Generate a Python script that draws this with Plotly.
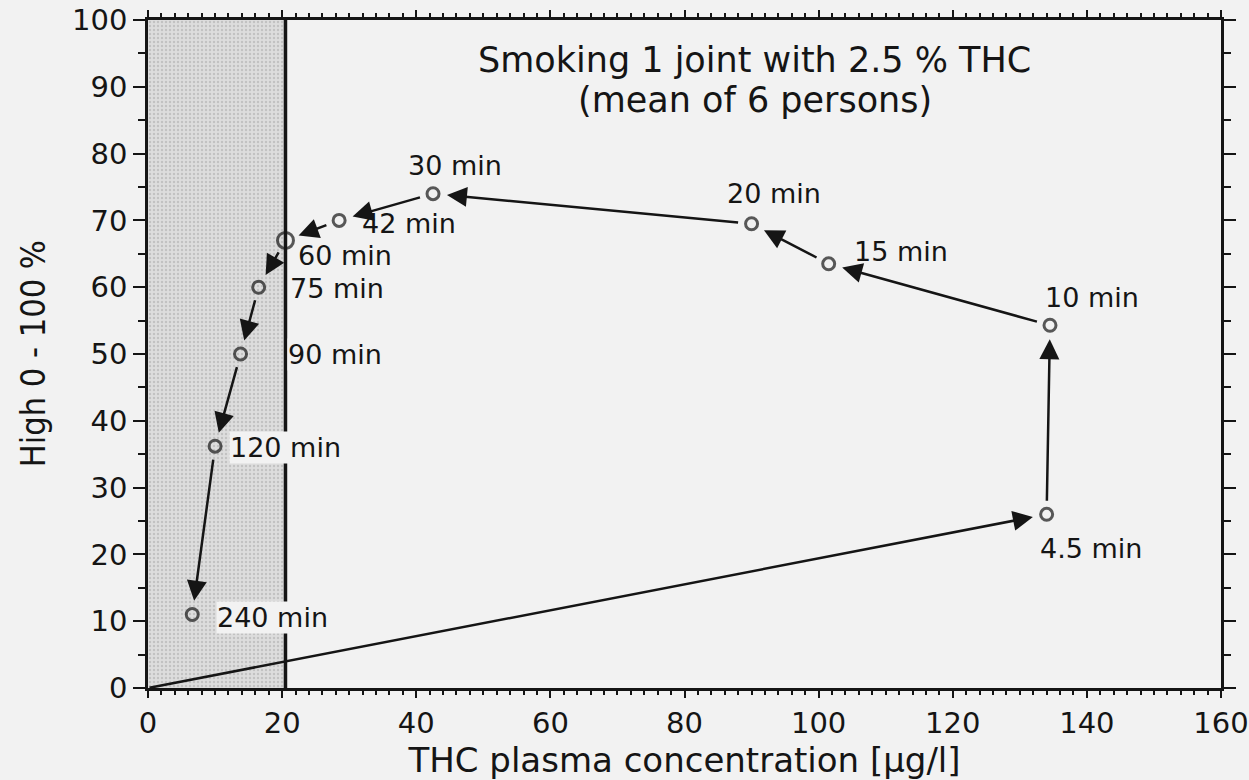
import plotly.graph_objects as go

# Mean time course after smoking one joint (2.5 % THC), n = 6
times = ["4.5 min", "10 min", "15 min", "20 min", "30 min", "42 min",
         "60 min", "75 min", "90 min", "120 min", "240 min"]
thc_conc = [134.0, 134.5, 101.5, 90.0, 42.5, 28.5, 20.5, 16.5, 13.8, 10.0, 6.6]
high_pct = [26.0, 54.3, 63.5, 69.5, 74.0, 70.0, 67.0, 60.0, 50.0, 36.2, 11.0]

# path starts at baseline before smoking
start_conc, start_high = 0.0, 0.0

# shaded concentration band (below ~20 µg/l)
shade_limit = 20.5

# label offsets (pixels) relative to each point: (dx, dy), dy positive = up
label_offsets = {
    "4.5 min": (-8, -34), "10 min": (-6, 28), "15 min": (24, 12),
    "20 min": (-26, 30), "30 min": (-26, 28), "42 min": (22, -3),
    "60 min": (12, -15), "75 min": (30, -1), "90 min": (46, 0),
    "120 min": (14, -1), "240 min": (24, -3),
}
boxed_labels = {"90 min", "120 min", "240 min"}

PAPER = "#f2f2f2"
INK = "#151515"
FONT = "DejaVu Sans"

fig = go.Figure()

# shaded band
fig.add_trace(go.Scatter(
    x=[0, shade_limit, shade_limit, 0, 0], y=[0, 0, 100, 100, 0],
    mode="lines", fill="toself", fillcolor="#dadada",
    fillpattern=dict(shape=".", bgcolor="#dddddd", fgcolor="#a6a6a6",
                     size=4, solidity=0.3),
    line=dict(width=0), hoverinfo="skip", showlegend=False,
))

# measurement points
fig.add_trace(go.Scatter(
    x=thc_conc, y=high_pct, mode="markers",
    marker=dict(symbol="circle-open", color=INK,
                size=[16 if t == "60 min" else 12 for t in times],
                line=dict(width=3, color=INK)),
    hoverinfo="skip", showlegend=False,
))

# band boundary line
fig.add_shape(type="line", x0=shade_limit, x1=shade_limit, y0=0, y1=100,
              xref="x", yref="y", line=dict(color=INK, width=3.5), layer="above")

annotations = []

# arrows along the time course
path_x = [start_conc] + thc_conc
path_y = [start_high] + high_pct
for i in range(len(path_x) - 1):
    annotations.append(dict(
        x=path_x[i + 1], y=path_y[i + 1], ax=path_x[i], ay=path_y[i],
        xref="x", yref="y", axref="x", ayref="y", text="",
        showarrow=True, arrowhead=2, arrowsize=1.6, arrowwidth=2.5,
        arrowcolor=INK, standoff=14, startstandoff=0 if i == 0 else 12,
    ))

# time labels
for t, xv, yv in zip(times, thc_conc, high_pct):
    dx, dy = label_offsets[t]
    annotations.append(dict(
        x=xv, y=yv, xref="x", yref="y", text=t, showarrow=False,
        xanchor="left", yanchor="middle", xshift=dx, yshift=dy,
        font=dict(family=FONT, size=27, color=INK),
        bgcolor=PAPER if t in boxed_labels else None,
        borderpad=0,
    ))

# heading inside the plot
annotations.append(dict(
    x=90.5, y=94, xref="x", yref="y", text="Smoking 1 joint with 2.5 % THC",
    showarrow=False, xanchor="center", yanchor="middle",
    font=dict(family=FONT, size=35, color=INK)))
annotations.append(dict(
    x=90.5, y=88, xref="x", yref="y", text="(mean of 6 persons)",
    showarrow=False, xanchor="center", yanchor="middle",
    font=dict(family=FONT, size=35, color=INK)))

# y-axis title
annotations.append(dict(
    x=-0.107, y=0.5, xref="paper", yref="paper", text="High 0 - 100 %",
    showarrow=False, textangle=-90, xanchor="center", yanchor="middle",
    font=dict(family="Liberation Sans Narrow, DejaVu Sans Condensed, Liberation Sans",
              size=34, color=INK)))

axis_common = dict(
    showgrid=False, zeroline=False, showline=True, linecolor=INK,
    linewidth=2.5, mirror="ticks", ticks="outside", tickcolor=INK,
    tickwidth=2, tickfont=dict(family=FONT, size=29, color=INK),
    automargin=False, ticklabeloverflow="allow",
)

fig.update_layout(
    width=1249, height=780,
    margin=dict(l=148, r=28, t=20, b=92),
    paper_bgcolor=PAPER, plot_bgcolor=PAPER,
    annotations=annotations,
    xaxis=dict(range=[0, 160], dtick=20, ticklen=7,
               minor=dict(dtick=2, ticklen=4, tickwidth=1.5, ticks="outside",
                          tickcolor=INK),
               title=dict(text="THC plasma concentration [µg/l]", standoff=0,
                          font=dict(family=FONT, size=34, color=INK)),
               **axis_common),
    yaxis=dict(range=[0, 100], dtick=10, ticklen=12,
               minor=dict(dtick=5, ticklen=7, tickwidth=1.5, ticks="outside",
                          tickcolor=INK),
               **axis_common),
)

fig.write_html("out.html")
